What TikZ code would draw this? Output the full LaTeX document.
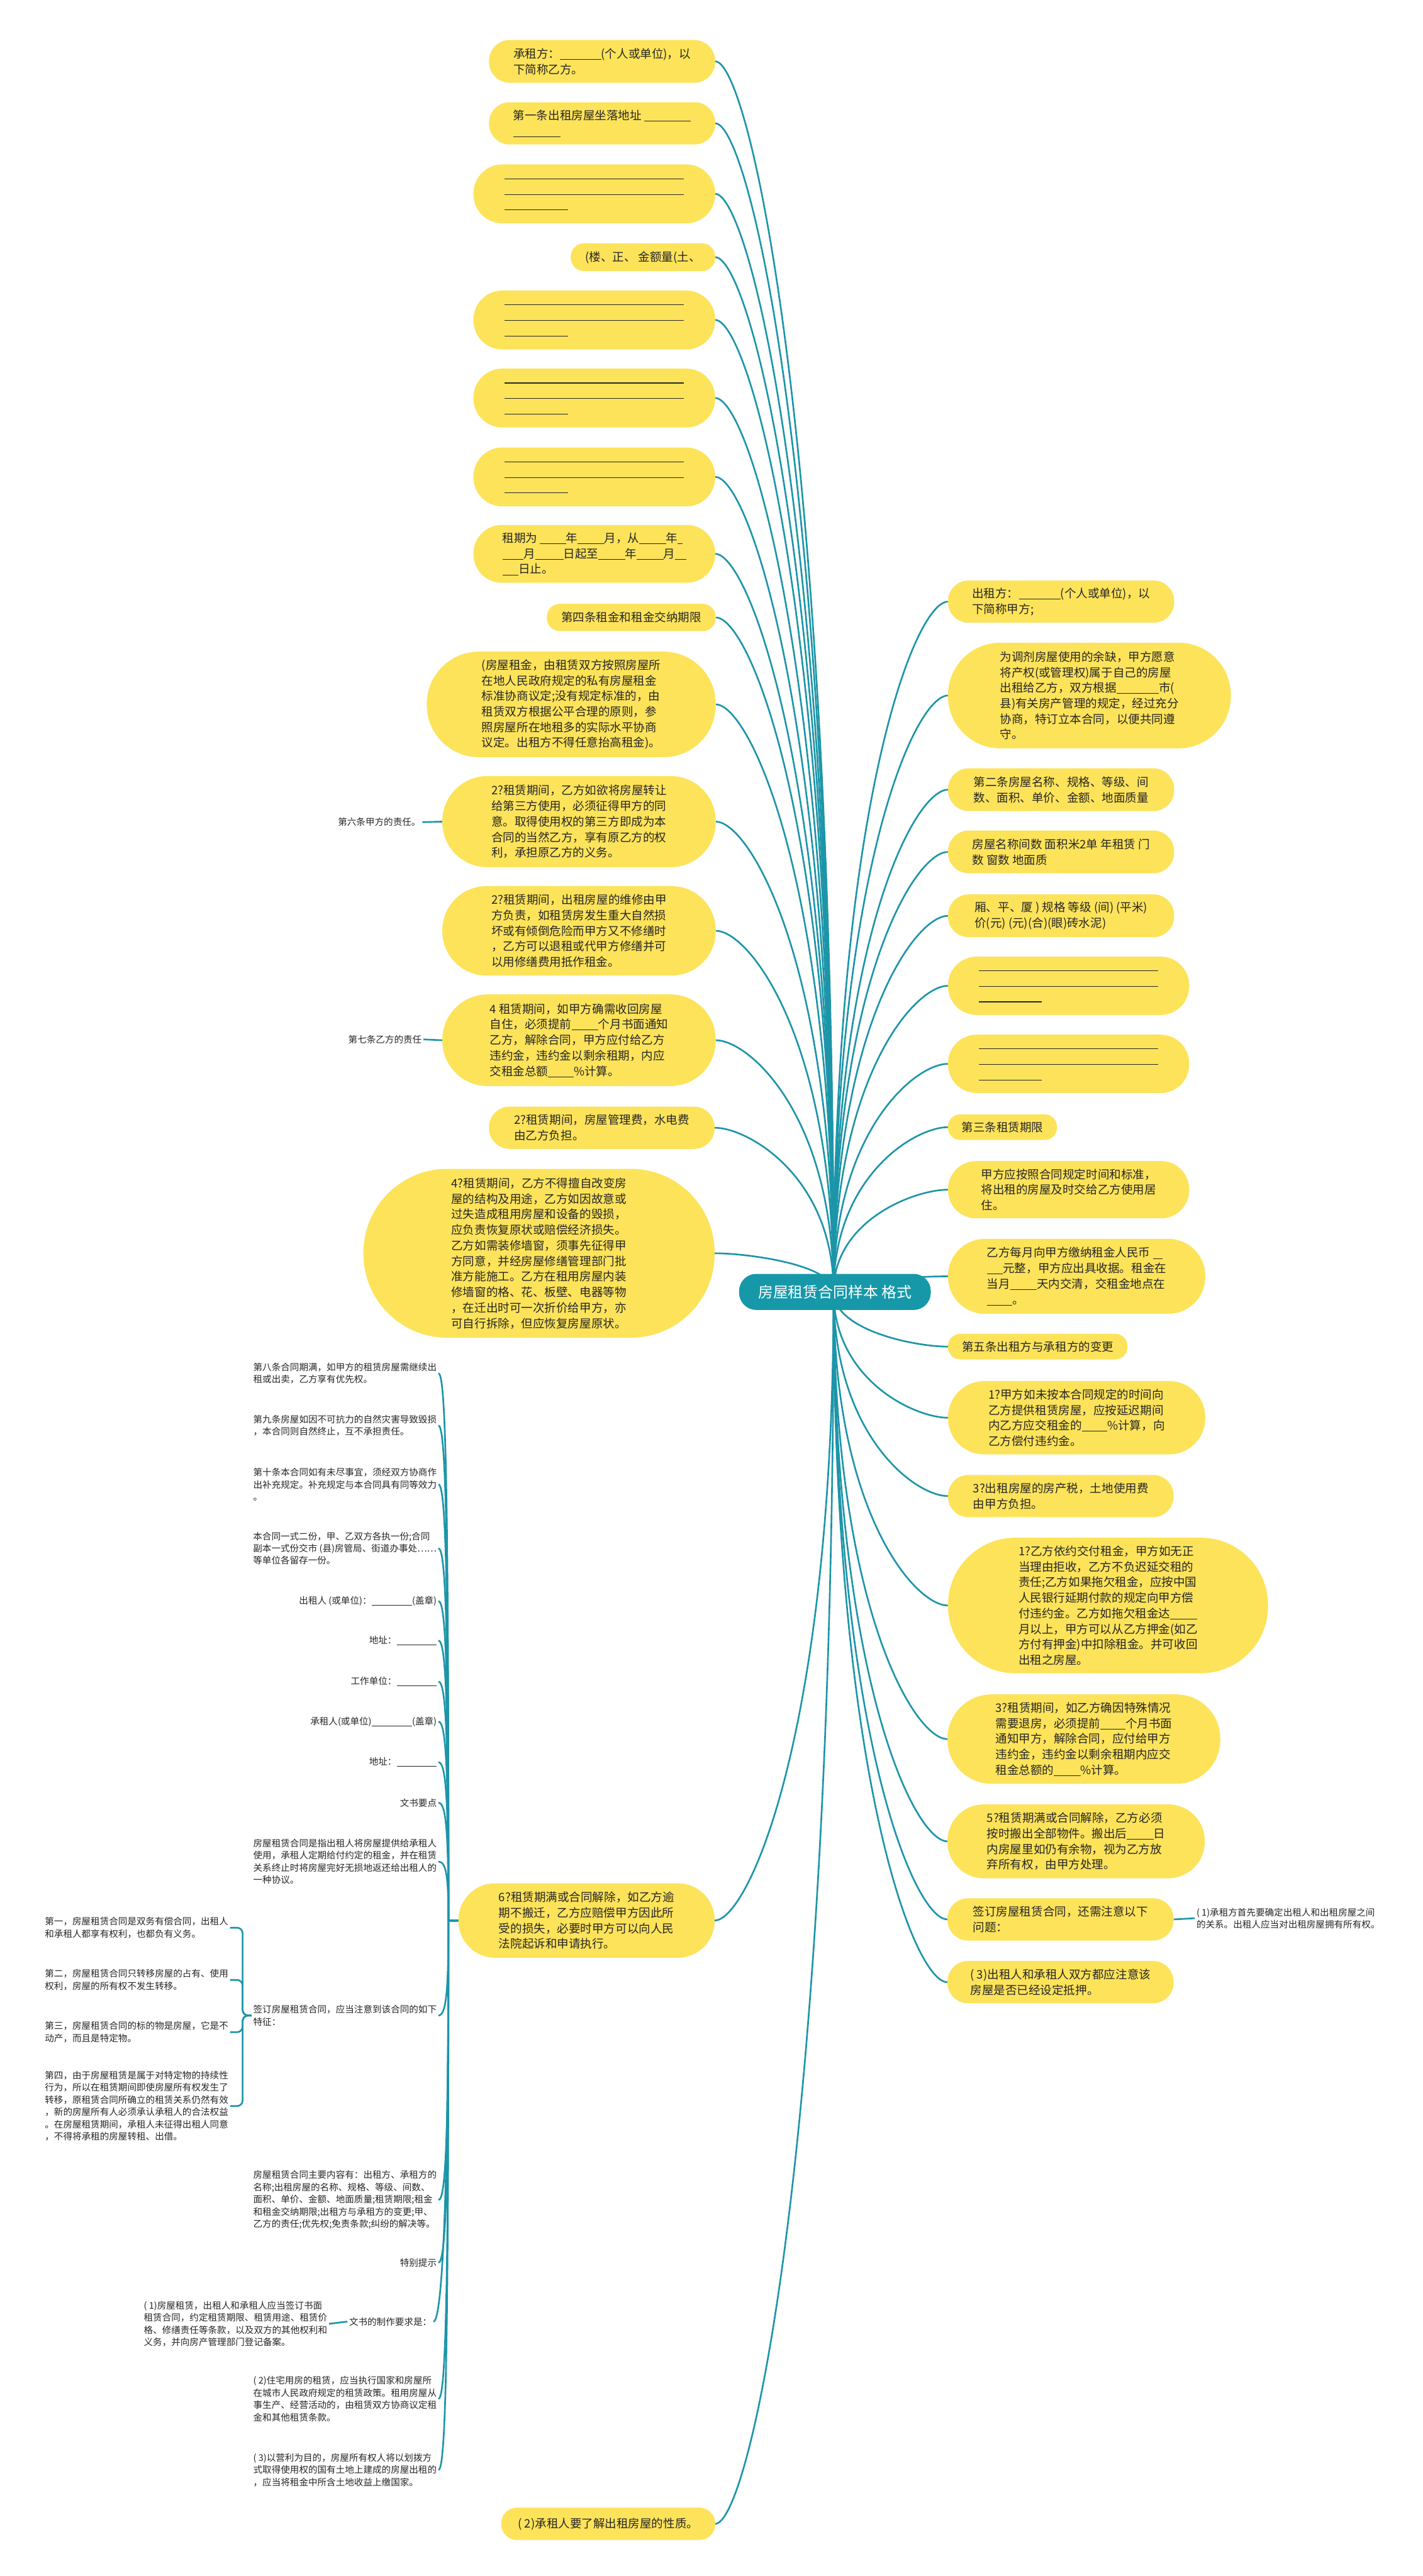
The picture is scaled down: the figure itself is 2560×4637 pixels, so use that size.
\documentclass[tikz,border=0pt]{standalone}
\usepackage{fontspec}
\setmainfont{Noto Sans CJK SC}
\usetikzlibrary{calc}
\pgfdeclarelayer{bg}
\pgfsetlayers{bg,main}
\definecolor{yel}{HTML}{FDE35A}
\definecolor{tealc}{HTML}{1C95A8}
\definecolor{rootc}{HTML}{1798A9}
\definecolor{txt}{HTML}{262626}
\newcommand\bk[1]{\rule[-3pt]{#1pt}{1.2pt}}
\newcommand\fa{\fontsize{21}{28}\selectfont}
\newcommand\fs{\fontsize{16.5}{22}\selectfont}
\tikzset{
  yel/.style={fill=yel,draw=none,align=left,inner sep=0pt,text=txt,font=\fa},
  sm/.style={align=left,inner sep=3pt,text=txt,font=\fs},
  rootbox/.style={fill=rootc,draw=none,text=white,minimum width=345pt,minimum height=65pt,rounded corners=31pt,font=\fontsize{27}{32}\selectfont},
  conn/.style={draw=tealc,line width=3pt}
}
\newcommand\ynode[6]{\pgfmathsetmacro\rr{#5/2-1}\node[yel,minimum width=#4pt,minimum height=#5pt,rounded corners=\rr pt] (#1) at (#2,#3) {#6};}
\newcommand\connL[1]{\draw[conn] (rc) .. controls ($(rc)!0.7!(rc|-#1.east)$) and ($(#1.east)+(60,0)$) .. (#1.east);}
\newcommand\connR[1]{\draw[conn] (rc) .. controls ($(rc)!0.7!(rc|-#1.west)$) and ($(#1.west)+(-60,0)$) .. (#1.west);}
\newcommand\connS[1]{\draw[conn] (L16.west) -- (sp) .. controls ($(sp)!0.75!(sp|-#1.east)$) and ($(#1.east)+(14,0)$) .. (#1.east);}
\newcommand\connB[1]{\draw[conn,rounded corners=10pt] (qz.west) -- ($(qz.west)+(-16,0)$) |- (#1.east);}
\begin{document}
\begin{tikzpicture}[x=1pt,y=-1pt]
\useasboundingbox (0,0) rectangle (2560,4637);
\begin{pgfonlayer}{bg}
\fill[white] (0,0) rectangle (2560,4637);
\end{pgfonlayer}
\coordinate (rc) at (1500,2325);
\coordinate (sp) at (807,3457);
\node[rootbox] (root) at (1502.5,2325.5) {房屋租赁合同样本 格式};
% left nodes
\ynode{L1}{1083.5}{110.5}{407}{77}{承租方：\bk{74}(个人或单位)，以\\下简称乙方。}
\ynode{L2}{1083.5}{222}{407}{76}{第一条出租房屋坐落地址 \bk{84}\\\bk{85}}
\ynode{L3}{1069.5}{349}{435}{106}{\bk{323}\\\bk{323}\\\bk{114}}
\ynode{L4}{1157}{463}{260}{50}{(楼、正、 金额量(土、}
\ynode{L5}{1069.5}{576}{435}{106}{\bk{323}\\\bk{323}\\\bk{114}}
\ynode{L6}{1069.5}{716.5}{435}{106}{\bk{323}\\\bk{323}\\\bk{114}}
\ynode{L7}{1069.5}{858.5}{435}{106}{\bk{323}\\\bk{323}\\\bk{114}}
\ynode{L8}{1069.5}{997}{435}{104}{租期为 \bk{47}年\bk{48}月，从\bk{48}年\bk{9}\\\bk{38}月\bk{51}日起至\bk{48}年\bk{48}月\bk{20}\\\bk{29}日止。}
\ynode{L9}{1136}{1111.5}{304}{49}{第四条租金和租金交纳期限}
\ynode{L10}{1028}{1268}{520}{190}{(房屋租金，由租赁双方按照房屋所\\在地人民政府规定的私有房屋租金\\标准协商议定;没有规定标准的，由\\租赁双方根据公平合理的原则，参\\照房屋所在地租多的实际水平协商\\议定。出租方不得任意抬高租金)。}
\ynode{L11}{1042}{1479}{492}{164}{2?租赁期间，乙方如欲将房屋转让\\给第三方使用，必须征得甲方的同\\意。取得使用权的第三方即成为本\\合同的当然乙方，享有原乙方的权\\利，承担原乙方的义务。}
\ynode{L12}{1042}{1675.5}{492}{161}{2?租赁期间，出租房屋的维修由甲\\方负责，如租赁房发生重大自然损\\坏或有倾倒危险而甲方又不修缮时\\，乙方可以退租或代甲方修缮并可\\以用修缮费用抵作租金。}
\ynode{L13}{1042}{1872.5}{492}{165}{4 租赁期间，如甲方确需收回房屋\\自住，必须提前\bk{48}个月书面通知\\乙方，解除合同，甲方应付给乙方\\违约金，违约金以剩余租期，内应\\交租金总额\bk{46}\%计算。}
\ynode{L14}{1083}{2030}{406}{76}{2?租赁期间，房屋管理费，水电费\\由乙方负担。}
\ynode{L15}{970}{2256}{632}{304}{4?租赁期间，乙方不得擅自改变房\\屋的结构及用途，乙方如因故意或\\过失造成租用房屋和设备的毁损，\\应负责恢复原状或赔偿经济损失。\\乙方如需装修墙窗，须事先征得甲\\方同意，并经房屋修缮管理部门批\\准方能施工。乙方在租用房屋内装\\修墙窗的格、花、板壁、电器等物\\，在迁出时可一次折价给甲方，亦\\可自行拆除，但应恢复房屋原状。}
\ynode{L16}{1055.5}{3457}{461}{134}{6?租赁期满或合同解除，如乙方逾\\期不搬迁，乙方应赔偿甲方因此所\\受的损失，必要时甲方可以向人民\\法院起诉和申请执行。}
\ynode{L17}{1094.5}{4543}{385}{58}{( 2)承租人要了解出租房屋的性质。}
% right nodes
\ynode{R1}{1909.5}{1083}{407}{76}{出租方：\bk{75}(个人或单位)，以\\下简称甲方;}
\ynode{R2}{1960.5}{1252}{509}{190}{为调剂房屋使用的余缺，甲方愿意\\将产权(或管理权)属于自己的房屋\\出租给乙方，双方根据\bk{76}市(\\县)有关房产管理的规定，经过充分\\协商，特订立本合同，以便共同遵\\守。}
\ynode{R3}{1909.5}{1421.5}{407}{77}{第二条房屋名称、规格、等级、间\\数、面积、单价、金额、地面质量}
\ynode{R4}{1909.5}{1533.5}{407}{77}{房屋名称间数 面积米2单 年租赁 门\\数 窗数 地面质}
\ynode{R5}{1909.5}{1648.5}{407}{77}{厢、平、厦 ) 规格 等级 (间) (平米)\\价(元) (元)(合)(眼)砖水泥)}
\ynode{R6}{1923}{1774.5}{434}{105}{\bk{323}\\\bk{323}\\\bk{113}}
\ynode{R7}{1923}{1915}{434}{105}{\bk{323}\\\bk{323}\\\bk{113}}
\ynode{R8}{1804}{2029}{196}{46}{第三条租赁期限}
\ynode{R9}{1923}{2141.5}{434}{103}{甲方应按照合同规定时间和标准，\\将出租的房屋及时交给乙方使用居\\住。}
\ynode{R10}{1937.5}{2297.5}{463}{135}{乙方每月向甲方缴纳租金人民币 \bk{17}\\\bk{29}元整，甲方应出具收据。租金在\\当月\bk{48}天内交清，交租金地点在\\\bk{46}。}
\ynode{R11}{1867.5}{2424}{323}{46}{第五条出租方与承租方的变更}
\ynode{R12}{1937.5}{2552}{463}{132}{1?甲方如未按本合同规定的时间向\\乙方提供租赁房屋，应按延迟期间\\内乙方应交租金的\bk{46}\%计算，向\\乙方偿付违约金。}
\ynode{R13}{1909}{2693}{406}{76}{3?出租房屋的房产税，土地使用费\\由甲方负担。}
\ynode{R14}{1994}{2890}{576}{244}{1?乙方依约交付租金，甲方如无正\\当理由拒收，乙方不负迟延交租的\\责任;乙方如果拖欠租金，应按中国\\人民银行延期付款的规定向甲方偿\\付违约金。乙方如拖欠租金达\bk{48}\\月以上，甲方可以从乙方押金(如乙\\方付有押金)中扣除租金。并可收回\\出租之房屋。}
\ynode{R15}{1950.5}{3130.5}{491}{161}{3?租赁期间，如乙方确因特殊情况\\需要退房，必须提前\bk{45}个月书面\\通知甲方，解除合同，应付给甲方\\违约金，违约金以剩余租期内应交\\租金总额的\bk{48}\%计算。}
\ynode{R16}{1936.5}{3314.5}{463}{133}{5?租赁期满或合同解除，乙方必须\\按时搬出全部物件。搬出后\bk{48}日\\内房屋里如仍有余物，视为乙方放\\弃所有权，由甲方处理。}
\ynode{R17}{1908.5}{3455}{407}{76}{签订房屋租赁合同，还需注意以下\\问题：}
\ynode{R18}{1908.5}{3568}{407}{76}{( 3)出租人和承租人双方都应注意该\\房屋是否已经设定抵押。}
% small labels
\node[sm,anchor=east] (lab6) at (760,1480) {第六条甲方的责任。};
\node[sm,anchor=east] (lab7) at (762,1871) {第七条乙方的责任};
\node[sm,anchor=west] (r17c) at (2150,3453) {( 1)承租方首先要确定出租人和出租房屋之间\\的关系。出租人应当对出租房屋拥有所有权。};
% subtree of L16
\node[sm,anchor=east] (s1) at (789,2472) {第八条合同期满，如甲方的租赁房屋需继续出\\租或出卖，乙方享有优先权。};
\node[sm,anchor=east] (s2) at (789,2566) {第九条房屋如因不可抗力的自然灾害导致毁损\\，本合同则自然终止，互不承担责任。};
\node[sm,anchor=east] (s3) at (789,2672) {第十条本合同如有未尽事宜，须经双方协商作\\出补充规定。补充规定与本合同具有同等效力\\。};
\node[sm,anchor=east] (s4) at (789,2787) {本合同一式二份，甲、乙双方各执一份;合同\\副本一式份交市 (县)房管局、街道办事处……\\等单位各留存一份。};
\node[sm,anchor=east] (s5) at (789,2882) {出租人 (或单位)：\bk{73}(盖章)};
\node[sm,anchor=east] (s6) at (789,2953) {地址：\bk{72}};
\node[sm,anchor=east] (s7) at (789,3027) {工作单位：\bk{72}};
\node[sm,anchor=east] (s8) at (789,3099) {承租人(或单位)\bk{73}(盖章)};
\node[sm,anchor=east] (s9) at (789,3172) {地址：\bk{72}};
\node[sm,anchor=east] (s10) at (789,3245) {文书要点};
\node[sm,anchor=east] (s11) at (789,3351) {房屋租赁合同是指出租人将房屋提供给承租人\\使用，承租人定期给付约定的租金，并在租赁\\关系终止时将房屋完好无损地返还给出租人的\\一种协议。};
\node[sm,anchor=east] (qz) at (789,3628) {签订房屋租赁合同，应当注意到该合同的如下\\特征：};
\node[sm,anchor=east] (s13) at (789,3960) {房屋租赁合同主要内容有：出租方、承租方的\\名称;出租房屋的名称、规格、等级、间数、\\面积、单价、金额、地面质量;租赁期限;租金\\和租金交纳期限;出租方与承租方的变更;甲、\\乙方的责任;优先权;免责条款;纠纷的解决等。};
\node[sm,anchor=east] (s14) at (789,4073) {特别提示};
\node[sm,anchor=east] (wz) at (780,4179) {文书的制作要求是：};
\node[sm,anchor=east] (s16) at (789,4318) {( 2)住宅用房的租赁，应当执行国家和房屋所\\在城市人民政府规定的租赁政策。租用房屋从\\事生产、经营活动的，由租赁双方协商议定租\\金和其他租赁条款。};
\node[sm,anchor=east] (s17) at (789,4446) {( 3)以营利为目的，房屋所有权人将以划拨方\\式取得使用权的国有土地上建成的房屋出租的\\，应当将租金中所含土地收益上缴国家。};
\node[sm,anchor=east] (w1) at (592,4183) {( 1)房屋租赁，出租人和承租人应当签订书面\\租赁合同，约定租赁期限、租赁用途、租赁价\\格、修缮责任等条款，以及双方的其他权利和\\义务，并向房产管理部门登记备案。};
\node[sm,anchor=east] (b1) at (414,3470) {第一，房屋租赁合同是双务有偿合同，出租人\\和承租人都享有权利，也都负有义务。};
\node[sm,anchor=east] (b2) at (414,3564) {第二，房屋租赁合同只转移房屋的占有、使用\\权利，房屋的所有权不发生转移。};
\node[sm,anchor=east] (b3) at (414,3658) {第三，房屋租赁合同的标的物是房屋，它是不\\动产，而且是特定物。};
\node[sm,anchor=east] (b4) at (414,3791) {第四，由于房屋租赁是属于对特定物的持续性\\行为，所以在租赁期间即使房屋所有权发生了\\转移，原租赁合同所确立的租赁关系仍然有效\\，新的房屋所有人必须承认承租人的合法权益\\。在房屋租赁期间，承租人未征得出租人同意\\，不得将承租的房屋转租、出借。};
% connectors
\begin{pgfonlayer}{bg}
\foreach \n in {L1,L2,L3,L4,L5,L6,L7,L8,L9,L10,L11,L12,L13,L14,L15,L16,L17}{\connL{\n}}
\foreach \n in {R1,R2,R3,R4,R5,R6,R7,R8,R9,R10,R11,R12,R13,R14,R15,R16,R17,R18}{\connR{\n}}
\foreach \n in {s1,s2,s3,s4,s5,s6,s7,s8,s9,s10,s11,qz,s13,s14,wz,s16,s17}{\connS{\n}}
\foreach \n in {b1,b2,b3,b4}{\connB{\n}}
\draw[conn] (lab6.east) -- (L11.west);
\draw[conn] (lab7.east) -- (L13.west);
\draw[conn] (R17.east) -- (r17c.west);
\draw[conn] (w1.east) -- (wz.west);
\end{pgfonlayer}
\end{tikzpicture}
\end{document}
